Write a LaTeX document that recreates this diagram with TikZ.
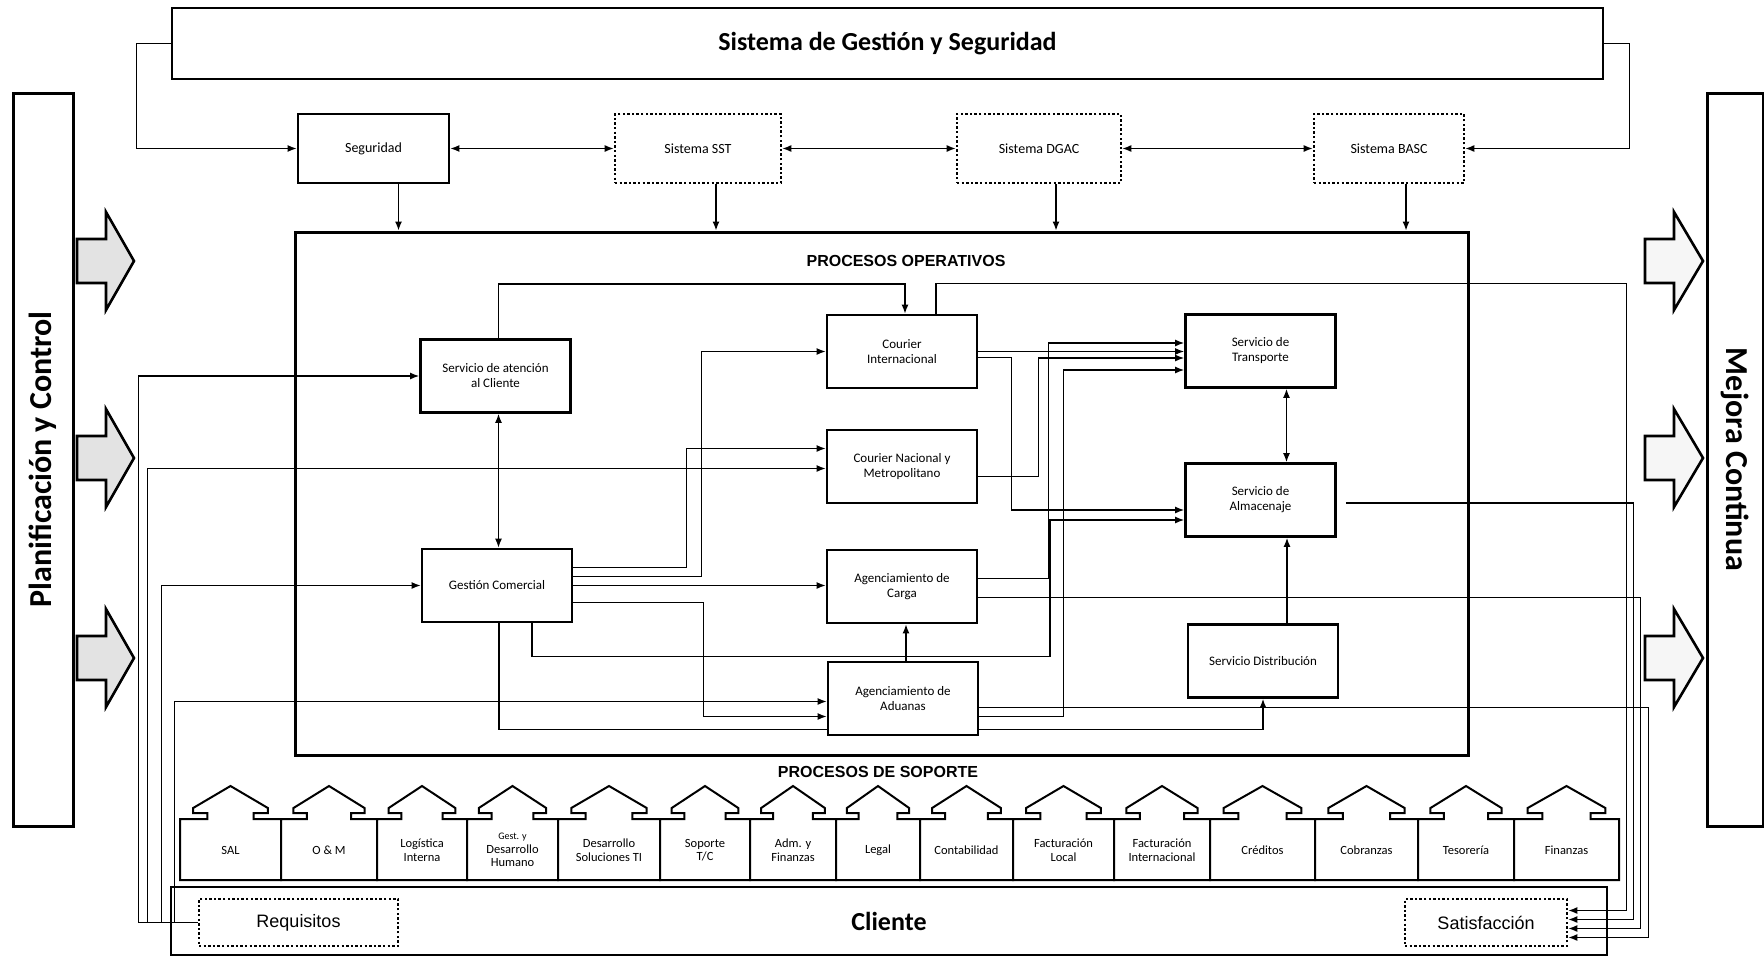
\documentclass[tikz,border=0pt]{standalone}
\usepackage{fontspec}
\setmainfont{Carlito}
\newfontfamily\arialfont{Liberation Sans}
\usetikzlibrary{arrows.meta,calc}

\begin{document}
\begin{tikzpicture}[x=1pt,y=-1pt,
    opbox/.style={draw, line width=2.8pt, fill=white, align=center, inner sep=2pt,
        minimum width=150pt, minimum height=73pt, font=\fontsize{13}{15}\selectfont},
    sysbox/.style={draw, line width=2.6pt, dash pattern=on 2.4pt off 2.2pt, fill=white,
        align=center, font=\fontsize{14}{16}\selectfont},
    bigbox/.style={draw, line width=2.6pt},
    conn/.style={line width=1.3pt, -{Latex[length=9pt,width=7pt]}},
    dconn/.style={line width=1.3pt, {Latex[length=9pt,width=7pt]}-{Latex[length=9pt,width=7pt]}},
    plain/.style={line width=1.3pt},
    blockarr/.style={draw, line width=2.6pt, line join=miter},
    house/.style={draw, line width=2pt, fill=white, line join=miter},
    supptext/.style={align=center, font=\fontsize{12.5}{13.5}\selectfont},
    sectitle/.style={font=\arialfont\bfseries\fontsize{16}{18}\selectfont}
]
    \useasboundingbox (0,0) rectangle (1764,959);

    % Outer frame
    \node[bigbox, minimum width=1431pt, minimum height=71pt,
        font=\bfseries\fontsize{26}{28}\selectfont] (sgs) at (887.5,43.5) {Sistema de Gestión y Seguridad};
    \node[bigbox, line width=3pt, rotate=90, minimum width=733pt, minimum height=60pt,
        font=\bfseries\fontsize{32}{34}\selectfont] (plan) at (43,459.5) {Planificación y Control};
    \node[bigbox, line width=3pt, rotate=-90, minimum width=733pt, minimum height=56pt,
        font=\bfseries\fontsize{32}{34}\selectfont] (mejora) at (1735,459.5) {Mejora Continua};

    % Management systems
    \node[opbox, minimum width=151pt, minimum height=69pt, font=\fontsize{14}{16}\selectfont] (seg) at (373.5,148.5) {Seguridad};
    \node[sysbox, minimum width=166pt, minimum height=69pt] (sst) at (698,148.5) {Sistema SST};
    \node[sysbox, minimum width=164pt, minimum height=69pt] (dgac) at (1039,148.5) {Sistema DGAC};
    \node[sysbox, minimum width=150pt, minimum height=69pt] (basc) at (1389,148.5) {Sistema BASC};

    % Operational processes
    \node[bigbox, line width=3pt, minimum width=1173pt, minimum height=523pt] (po) at (881.5,493.5) {};
    \node[sectitle] (potitle) at (906,261) {PROCESOS OPERATIVOS};

    \node[opbox] (sac) at (495.5,376) {Servicio de atención\\al Cliente};
    \node[opbox] (gcom) at (497,585.5) {Gestión Comercial};
    \node[opbox] (cint) at (902,351.5) {Courier\\Internacional};
    \node[opbox] (cnac) at (902,466.5) {Courier Nacional y\\Metropolitano};
    \node[opbox] (acarga) at (902,586.5) {Agenciamiento de\\Carga};
    \node[opbox] (aduana) at (903,698.5) {Agenciamiento de\\Aduanas};
    \node[opbox] (strans) at (1260.5,351) {Servicio de\\Transporte};
    \node[opbox] (salm) at (1260.5,500) {Servicio de\\Almacenaje};
    \node[opbox] (sdist) at (1263,661) {Servicio Distribución};

    % Support processes
    \node[sectitle] (pstitle) at (878,772) {PROCESOS DE SOPORTE};
    \foreach \xa/\xb/\txt in {180/281/SAL, 281/377/{O \& M}, 377/467/{Logística\\Interna},
        467/558/{\fontsize{10}{10.5}\selectfont Gest. y\\Desarrollo\\Humano},
        558/660/{Desarrollo\\Soluciones TI}, 660/750/{Soporte\\T/C}, 750/836/{Adm. y\\Finanzas},
        836/920/Legal, 920/1013/Contabilidad, 1013/1114/{Facturación\\Local},
        1114/1210/{Facturación\\Internacional}, 1210/1315/Créditos, 1315/1418/Cobranzas,
        1418/1514/Tesorería, 1514/1619/Finanzas} {
        \pgfmathsetmacro{\xm}{(\xa+\xb)/2}
        \pgfmathsetmacro{\hw}{0.37*(\xb-\xa)}
        \pgfmathsetmacro{\sw}{0.23*(\xb-\xa)}
        \draw[house] (\xa,880) -- (\xa,819) -- (\xm-\sw,819) -- (\xm-\sw,813) -- (\xm-\hw,813)
            -- (\xm-\hw,808) -- (\xm,786) -- (\xm+\hw,808) -- (\xm+\hw,813) -- (\xm+\sw,813)
            -- (\xm+\sw,819) -- (\xb,819) -- (\xb,880) -- cycle;
        \node[supptext] at (\xm,850) {\txt};
    }

    % Client
    \node[bigbox, minimum width=1436pt, minimum height=68pt,
        font=\bfseries\fontsize{26}{28}\selectfont] (clie) at (889,921) {Cliente};
    \node[sysbox, minimum width=199pt, minimum height=47pt,
        font=\arialfont\fontsize{18}{20}\selectfont] (req) at (298.5,922.5) {Requisitos};
    \node[sysbox, minimum width=162pt, minimum height=47pt,
        font=\arialfont\fontsize{18}{20}\selectfont] (sat) at (1486,922.5) {Satisfacción};

    % Block arrows
    \foreach \y in {261,458,658} {
        \draw[blockarr, fill=gray!22] (77,\y-22) -- (106,\y-22) -- (106,\y-49) -- (134,\y)
            -- (106,\y+49) -- (106,\y+22) -- (77,\y+22) -- cycle;
        \draw[blockarr, fill=gray!7] (1645,\y-22) -- (1674,\y-22) -- (1674,\y-49) -- (1703,\y)
            -- (1674,\y+49) -- (1674,\y+22) -- (1645,\y+22) -- cycle;
    }

    % Management system links
    \draw[conn] (sgs.west) -- ++(-34,0) |- (seg.west);
    \draw[conn] (sgs.east) -- ++(25,0) |- (basc.east);
    \draw[dconn] (seg.east) -- (sst.west);
    \draw[dconn] (sst.east) -- (dgac.west);
    \draw[dconn] (dgac.east) -- (basc.west);
    \foreach \s/\dx in {seg/25, sst/18, dgac/17, basc/17} {
        \draw[conn] ([xshift=\dx pt]\s.south) coordinate (tmp) -- (tmp |- po.north);
    }

    % Requirements into operations
    \draw[conn] (req.west) -- ++(-59,0) |- (sac.west);
    \draw[conn] (req.west) -- ++(-50,0) |- ([yshift=-2pt]cnac.west);
    \draw[conn] (req.west) -- ++(-36,0) |- (gcom.west);
    \draw[conn] (req.west) -- ++(-23,0) |- ([yshift=-3pt]aduana.west);

    % Customer service and sales
    \draw[conn] ([xshift=3pt]sac.north) -- ++(0,-54) -| ([xshift=3pt]cint.north);
    \draw[dconn] ([xshift=3pt]sac.south) coordinate (tmp) -- (tmp |- gcom.north);
    \draw[conn] ([yshift=18pt]gcom.east) -- ++(113,0) |- ([yshift=18pt]cnac.west);
    \draw[conn] ([yshift=9pt]gcom.east) -- ++(128,0) |- (cint.west);
    \draw[conn] (gcom.east) -- (gcom.east -| acarga.west);
    \draw[conn] ([yshift=-17pt]gcom.east) -- ++(130,0) |- ([yshift=-18pt]aduana.west);
    \draw[conn] ([xshift=35pt]gcom.south) -- ++(0,33) -| ([xshift=-134pt,yshift=-20pt]salm.west)
        -- ([yshift=-20pt]salm.west);
    \draw[plain] ([xshift=2pt]gcom.south) |- ([yshift=-31pt]aduana.west);

    % Courier and agency flows
    \draw[conn] (cint.east) -- (cint.east -| strans.west);
    \draw[conn] ([yshift=-6pt]cint.east) -- ++(33,0) |- ([yshift=-10pt]salm.west);
    \draw[conn] ([yshift=-10pt]cnac.east) -- ++(60,0) |- ([yshift=-7pt]strans.west);
    \draw[conn] ([yshift=8pt]acarga.east) -- ++(70,0) |- ([yshift=8pt]strans.west);
    \draw[conn] ([yshift=-18pt]aduana.east) -- ++(84,0) |- ([yshift=-19pt]strans.west);
    \draw[conn] ([yshift=-31pt]aduana.east) -| (sdist.south);
    \draw[conn] ([xshift=3pt]aduana.north) coordinate (tmp) -- (tmp |- acarga.south);
    \draw[dconn] ([xshift=26pt]strans.south) coordinate (tmp) -- (tmp |- salm.north);
    \draw[conn] ([xshift=24pt]sdist.north) coordinate (tmp) -- (tmp |- salm.south);

    % Outputs to satisfaction
    \draw[conn] ([xshift=34pt]cint.north) -- ++(0,-30) -| ([xshift=58pt,yshift=12pt]sat.east)
        -- ([yshift=12pt]sat.east);
    \draw[conn] ([xshift=9pt,yshift=-3pt]salm.east) -| ([xshift=65pt,yshift=3pt]sat.east)
        -- ([yshift=3pt]sat.east);
    \draw[conn] ([yshift=-11pt]acarga.east) -| ([xshift=72pt,yshift=-6pt]sat.east)
        -- ([yshift=-6pt]sat.east);
    \draw[conn] ([yshift=-9pt]aduana.east) -| ([xshift=80pt,yshift=-15pt]sat.east)
        -- ([yshift=-15pt]sat.east);
\end{tikzpicture}
\end{document}
